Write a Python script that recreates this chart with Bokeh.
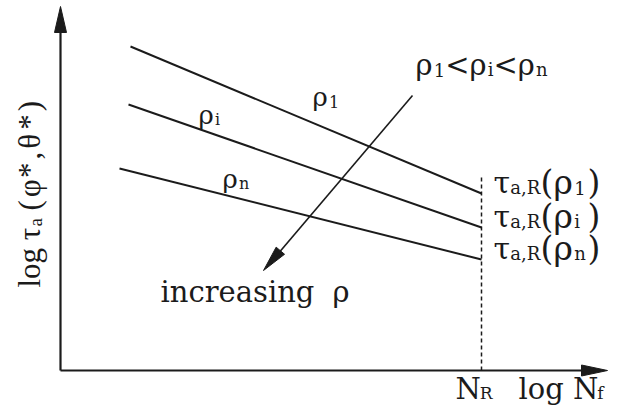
import math
from bokeh.plotting import figure
from bokeh.models import ColumnDataSource, Range1d
from bokeh.embed import file_html
from bokeh.resources import INLINE

# ---- schematic data (log N_f on x, log tau_a on y; arbitrary units) ----
series_sub = ["1", "i", "n"]          # rho_1, rho_i, rho_n
log_Nf_start = [70, 68, 59]            # left end of each S-N line
log_Nf_R = 421                         # N_R (run-out life)
log_tau_start = [324, 266, 202]        # log tau at left end
log_tau_R = [177, 143, 111]            # tau_a,R(rho) at N_R
x_axis_end = 547
y_axis_end = 364
trend_from = (352, 275)                # "increasing rho" arrow
trend_to = (203, 100)

FONT = "DejaVu Serif"
YFONT = "Liberation Serif"
INK = "#1b1b1b"
FIX = 9   # baseline correction of the svg text renderer (px)

EM = {" ": 0.318, "(": 0.39, ")": 0.39, ",": 0.318, "*": 0.5, "<": 0.838,
      "1": 0.636, "a": 0.596, "R": 0.77, "N": 0.84, "f": 0.37, "i": 0.32,
      "n": 0.644, "l": 0.32, "o": 0.602, "g": 0.635, "ρ": 0.63, "τ": 0.56,
      "φ": 0.78, "θ": 0.62}
LEM = {" ": 0.25, "(": 0.333, ")": 0.333, ",": 0.25, "*": 0.5, "a": 0.444,
       "l": 0.278, "o": 0.5, "g": 0.5, "τ": 0.439, "φ": 0.521, "θ": 0.521}


def text_width(s, size, font):
    table = LEM if font == YFONT else EM
    return sum(table.get(c, 0.6) for c in s) * size


p = figure(width=609, height=409,
           x_range=Range1d(-60, 549), y_range=Range1d(-39, 370),
           output_backend="svg", toolbar_location=None,
           x_axis_location=None, y_axis_location=None,
           min_border=0, outline_line_color=None)
p.grid.visible = False


def head(tip, direction, length, width):
    dx, dy = direction
    L = math.hypot(dx, dy)
    ux, uy = dx / L, dy / L
    bx, by = tip[0] - ux * length, tip[1] - uy * length
    px, py = -uy * width / 2, ux * width / 2
    return [tip[0], bx + px, bx - px], [tip[1], by + py, by - py]


# axes
p.segment(x0=[0, 0], y0=[0, 0], x1=[x_axis_end - 10, 0], y1=[0, y_axis_end - 10],
          line_color=INK, line_width=2.2)
hx1, hy1 = head((x_axis_end, 0), (1, 0), 26, 11)
hx2, hy2 = head((0, y_axis_end), (0, 1), 26, 12)
# S-N lines
p.segment(x0=log_Nf_start, y0=log_tau_start,
          x1=[log_Nf_R] * 3, y1=log_tau_R, line_color=INK, line_width=2.0)
# N_R dashed line
p.segment(x0=[log_Nf_R], y0=[0], x1=[log_Nf_R], y1=[max(log_tau_R) + 18],
          line_color=INK, line_width=1.5, line_dash="4 3")
# trend arrow
p.segment(x0=[trend_from[0]], y0=[trend_from[1]], x1=[trend_to[0] + 8],
          y1=[trend_to[1] + 9], line_color=INK, line_width=1.6)
hx3, hy3 = head(trend_to, (trend_to[0] - trend_from[0], trend_to[1] - trend_from[1]), 26, 11)
p.patches(xs=[hx1, hx2, hx3], ys=[hy1, hy2, hy3], fill_color=INK, line_color=INK,
          line_width=1)

# ---- texts (rich runs with subscripts) ----
runs = {"x": [], "y": [], "text": [], "size": [], "angle": [], "font": []}


def add_run(x, y, parts, angle=0.0, font=FONT, track=0.0):
    for t, s, drop in parts:
        if angle == 0.0:
            runs["x"].append(x)
            runs["y"].append(y - drop + FIX)
            x += text_width(t, s, font) + track
        else:
            runs["x"].append(x + drop - FIX)
            runs["y"].append(y)
            y += text_width(t, s, font) + track
        runs["text"].append(t)
        runs["size"].append(f"{s}px")
        runs["angle"].append(angle)
        runs["font"].append(font)


BIG, SUB, DROP = 26, 16, 5
# curve labels
label_pos = [(252, 265), (138, 247), (162, 183)]
for (lx, ly), sub in zip(label_pos, series_sub):
    add_run(lx, ly, [("ρ", BIG, 0), (sub, SUB, DROP)])

# ordering
add_run(355, 297, [("ρ", 29, 0), ("1", 18, DROP), ("<", 29, 0), ("ρ", 29, 0),
                   ("i", 18, DROP), ("<", 29, 0), ("ρ", 29, 0), ("n", 18, DROP)])

# tau_a,R labels at N_R
for tr, sub in zip(log_tau_R, series_sub):
    add_run(log_Nf_R + 12, tr + 2, [("τ", 30, 0), ("a,R", 18, DROP), ("(ρ", 33, 0),
                                      (sub, 18, DROP)])
    add_run(log_Nf_R + 106, tr + 2, [(")", 33, 0)])

# increasing rho
add_run(100, 70, [("increasing", 29, 0)])
add_run(272, 70, [("ρ", 29, 0)])

# x axis labels
add_run(log_Nf_R - 26, -27, [("N", 29, 0), ("R", 17, 4)])
add_run(458, -27, [("log N", 29, 0), ("f", 17, 4)])

# y axis label (rotated)
add_run(-22, 83, [("log τ", 31, 0), ("a", 19, 6)], angle=math.pi / 2, font=YFONT)
add_run(-22, 160, [(c, 31, 0) for c in "(φ*,θ*)"], angle=math.pi / 2,
        font=YFONT, track=3)

src = ColumnDataSource(runs)
p.text(x="x", y="y", text="text", angle="angle", source=src,
       text_font="font", text_font_size="size", text_color=INK,
       text_baseline="alphabetic", text_align="left")

open("out.html", "w").write(file_html(p, INLINE))
